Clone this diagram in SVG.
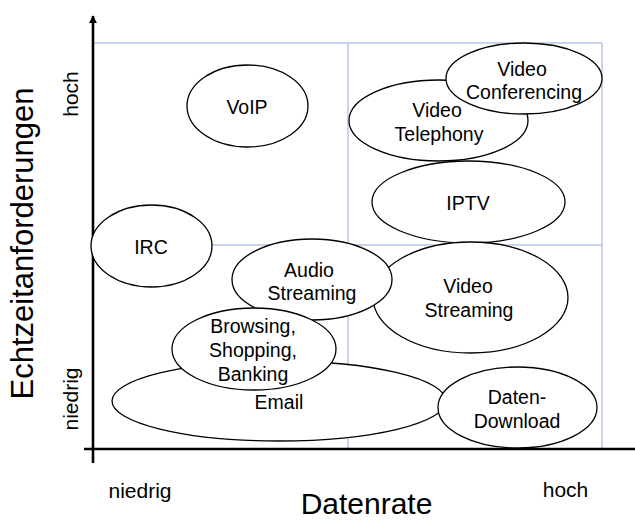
<svg xmlns="http://www.w3.org/2000/svg" width="635" height="520" viewBox="0 0 635 520">
<defs>
<style>
.n ellipse{fill:#fff;stroke:#000;stroke-width:1.3}
.n text{font-family:"Liberation Sans",Arial,sans-serif;font-size:19.5px;fill:#000;text-anchor:middle}
.grid{stroke:#b4c6e4;stroke-width:1.5;fill:none}
.axis{stroke:#000;stroke-width:2.6;fill:none}
.lbl{font-family:"Liberation Sans",Arial,sans-serif;fill:#000;text-anchor:middle}
</style>
<marker id="ah" viewBox="0 0 10 10" refX="9" refY="5" markerWidth="3.2" markerHeight="3.2" orient="auto" markerUnits="strokeWidth">
<path d="M0,0 L10,5 L0,10 z" fill="#000"/>
</marker>
</defs>
<rect width="635" height="520" fill="#fff"/>
<g id="grid">
<line class="grid" x1="93" y1="43" x2="602" y2="43"/>
<line class="grid" x1="93" y1="245" x2="602" y2="245"/>
<line class="grid" x1="348" y1="43" x2="348" y2="449"/>
<line class="grid" x1="602" y1="43" x2="602" y2="449"/>
</g>
<g id="connectors">
<line class="axis" x1="93" y1="463" x2="93" y2="16" marker-end="url(#ah)"/>
<line class="axis" x1="84" y1="449" x2="635" y2="449"/>
</g>
<g id="voip" class="n"><ellipse cx="247.5" cy="106" rx="60.5" ry="41"/><text x="247" y="114">VoIP</text></g>
<g id="video-telephony" class="n"><ellipse cx="438.5" cy="120.5" rx="89.5" ry="40.5"/><text x="437" y="117">Video</text><text x="439" y="141">Telephony</text></g>
<g id="video-conferencing" class="n"><ellipse cx="524" cy="78.5" rx="78" ry="35.5"/><text x="522" y="76">Video</text><text x="524" y="99">Conferencing</text></g>
<g id="iptv" class="n"><ellipse cx="468.5" cy="202" rx="96.5" ry="41"/><text x="468" y="210">IPTV</text></g>
<g id="irc" class="n"><ellipse cx="151.5" cy="246" rx="60.5" ry="41"/><text x="151" y="254">IRC</text></g>
<g id="video-streaming" class="n"><ellipse cx="470.5" cy="297.5" rx="97.5" ry="55.5"/><text x="468" y="293">Video</text><text x="469" y="317">Streaming</text></g>
<g id="audio-streaming" class="n"><ellipse cx="312" cy="279.5" rx="80" ry="40.5"/><text x="309" y="277">Audio</text><text x="312" y="300">Streaming</text></g>
<g id="email" class="n"><ellipse cx="279" cy="401" rx="167" ry="40"/><text x="279" y="409">Email</text></g>
<g id="browsing" class="n"><ellipse cx="254" cy="349" rx="82" ry="41"/><text x="253" y="333">Browsing,</text><text x="253" y="357">Shopping,</text><text x="253" y="381">Banking</text></g>
<g id="daten-download" class="n"><ellipse cx="517.5" cy="407.5" rx="79.5" ry="40.5"/><text x="517" y="404">Daten-</text><text x="517" y="428">Download</text></g>
<g id="labels">
<text class="lbl" x="140" y="498" font-size="21">niedrig</text>
<text class="lbl" x="565.5" y="497" font-size="21">hoch</text>
<text class="lbl" x="366.5" y="514" font-size="30">Datenrate</text>
<text class="lbl" transform="translate(33,243.5) rotate(-90)" font-size="31">Echtzeitanforderungen</text>
<text class="lbl" transform="translate(78,399) rotate(-90)" font-size="21">niedrig</text>
<text class="lbl" transform="translate(78,94) rotate(-90)" font-size="21">hoch</text>
</g>
</svg>
